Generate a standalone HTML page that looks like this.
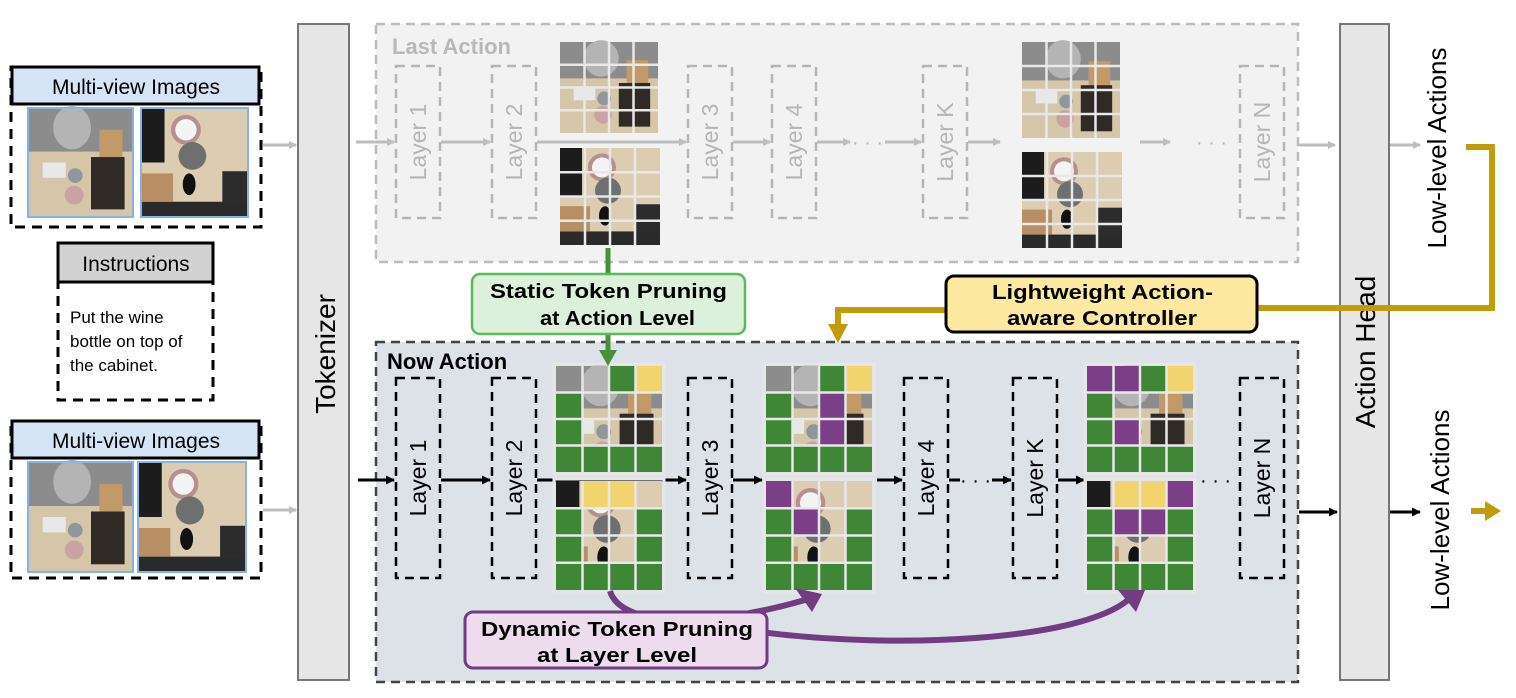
<!DOCTYPE html>
<html><head><meta charset="utf-8">
<style>
html,body{margin:0;padding:0;background:#fff;}
svg{display:block;}
text{font-family:"Liberation Sans",Arial,sans-serif;}
.nar{font-family:"Liberation Sans Narrow","Liberation Sans",Arial,sans-serif;font-weight:bold;}
</style></head>
<body>
<svg id="s" width="1516" height="698" viewBox="0 0 1516 698" xmlns="http://www.w3.org/2000/svg">
<defs>
<marker id="ag" markerWidth="8" markerHeight="8" refX="7" refY="4" orient="auto" markerUnits="userSpaceOnUse"><path d="M0,0 L8,4 L0,8z" fill="#bdbdbd"/></marker>
<marker id="ab" markerWidth="9" markerHeight="9" refX="8" refY="4.5" orient="auto" markerUnits="userSpaceOnUse"><path d="M0,0 L9,4.5 L0,9z" fill="#000"/></marker>
</defs>

<rect x="11" y="67" width="250" height="160" fill="none" stroke="#000" stroke-width="3" stroke-dasharray="10,7"/>
<rect x="12" y="67" width="247" height="37" fill="#d6e5f6" stroke="#000" stroke-width="3"/>
<text x="136" y="94" font-size="21" text-anchor="middle">Multi-view Images</text>

<rect x="58" y="243" width="155" height="157" fill="none" stroke="#000" stroke-width="3" stroke-dasharray="10,7"/>
<rect x="58" y="243" width="155" height="39" fill="#d2d2d2" stroke="#000" stroke-width="3"/>
<text x="136" y="271" font-size="21" text-anchor="middle">Instructions</text>
<text x="70" y="323" font-size="17">Put the wine</text>
<text x="70" y="347" font-size="17">bottle on top of</text>
<text x="70" y="371" font-size="17">the cabinet.</text>

<rect x="11" y="421" width="250" height="157" fill="none" stroke="#000" stroke-width="3" stroke-dasharray="10,7"/>
<rect x="12" y="421" width="247" height="37" fill="#d6e5f6" stroke="#000" stroke-width="3"/>
<text x="136" y="448" font-size="21" text-anchor="middle">Multi-view Images</text>

<line x1="263" y1="145" x2="296" y2="145" stroke="#bdbdbd" stroke-width="3" marker-end="url(#ag)"/>
<line x1="263" y1="510" x2="296" y2="510" stroke="#bdbdbd" stroke-width="3" marker-end="url(#ag)"/>

<rect x="298" y="24" width="51" height="656" fill="#e6e6e6" stroke="#777" stroke-width="2"/>
<text transform="translate(335,354) rotate(-90)" font-size="28" text-anchor="middle">Tokenizer</text>

<rect x="376" y="24" width="922" height="238" fill="#f2f2f2" stroke="#bcbcbc" stroke-width="2.5" stroke-dasharray="9,6"/>
<text x="392" y="54" font-size="22" font-weight="bold" fill="#b8b8b8">Last Action</text>
<g id="lastLayers"></g>

<rect x="376" y="342" width="922" height="340" fill="#dde1e8" stroke="#444" stroke-width="2.5" stroke-dasharray="9,6"/>
<text x="387" y="369" font-size="22" font-weight="bold">Now Action</text>
<g id="nowLayers"></g>

<g id="imgs"></g>

<rect x="1340" y="24" width="49" height="656" fill="#e6e6e6" stroke="#777" stroke-width="2"/>
<text transform="translate(1375,352) rotate(-90)" font-size="28" text-anchor="middle">Action Head</text>

<line x1="1299" y1="145" x2="1335" y2="145" stroke="#bdbdbd" stroke-width="3" marker-end="url(#ag)"/>
<line x1="1390" y1="145" x2="1420" y2="145" stroke="#bdbdbd" stroke-width="3" marker-end="url(#ag)"/>
<line x1="1299" y1="512" x2="1337" y2="512" stroke="#000" stroke-width="3" marker-end="url(#ab)"/>
<line x1="1390" y1="512" x2="1420" y2="512" stroke="#000" stroke-width="3" marker-end="url(#ab)"/>
<text transform="translate(1446,148) rotate(-90)" font-size="26" text-anchor="middle">Low-level Actions</text>
<text transform="translate(1449,510) rotate(-90)" font-size="26" text-anchor="middle">Low-level Actions</text>
<path d="M1471,508 L1485,508 L1485,501 L1501,511 L1485,521 L1485,514 L1471,514z" fill="#c19b0a"/>

<path d="M1466,147 L1492,147 L1492,308 L1258,308" fill="none" stroke="#c19b0a" stroke-width="6"/>
<path d="M946,310 L838,310 L838,326" fill="none" stroke="#c19b0a" stroke-width="6"/>
<path d="M828,324 L848,324 L838,343z" fill="#c19b0a"/>
<rect x="946" y="276" width="311" height="56" rx="8" fill="#fde9a0" stroke="#000" stroke-width="3"/>
<text class="nar" x="992" y="299" font-size="20" textLength="221" lengthAdjust="spacingAndGlyphs">Lightweight Action-</text>
<text class="nar" x="1007" y="325" font-size="20" textLength="190" lengthAdjust="spacingAndGlyphs">aware Controller</text>

<line x1="608" y1="248" x2="608" y2="274" stroke="#4a8f3a" stroke-width="5"/>
<line x1="608" y1="334" x2="608" y2="352" stroke="#4a8f3a" stroke-width="5"/>
<path d="M599,350 L617,350 L608,366z" fill="#4a8f3a"/>
<rect x="472" y="274" width="273" height="60" rx="8" fill="#ddf0dc" stroke="#5cb85c" stroke-width="2.5"/>
<text class="nar" x="490" y="298" font-size="20" textLength="237" lengthAdjust="spacingAndGlyphs">Static Token Pruning</text>
<text class="nar" x="540" y="325" font-size="20" textLength="155" lengthAdjust="spacingAndGlyphs">at Action Level</text>

<path d="M610,591 C620,625 700,630 805,600" fill="none" stroke="#713c80" stroke-width="6"/>
<path d="M795,588 L822,594 L812,612z" fill="#713c80"/>
<path d="M760,632 C900,650 1080,640 1128,600" fill="none" stroke="#713c80" stroke-width="6"/>
<path d="M1118,590 L1145,590 L1136,612z" fill="#713c80"/>
<rect x="465" y="612" width="302" height="56" rx="8" fill="#ecdcee" stroke="#713c80" stroke-width="3"/>
<text class="nar" x="481" y="636" font-size="20" textLength="272" lengthAdjust="spacingAndGlyphs">Dynamic Token Pruning</text>
<text class="nar" x="537" y="662" font-size="20" textLength="160" lengthAdjust="spacingAndGlyphs">at Layer Level</text>
</svg>

<script>
(function(){
var NS="http://www.w3.org/2000/svg";
function el(p,t,a,txt){var e=document.createElementNS(NS,t);for(var k in a)e.setAttribute(k,a[k]);if(txt!==undefined)e.textContent=txt;p.appendChild(e);return e;}
var imgs=document.getElementById('imgs');

function sidev(p,x,y,w,h){
  el(p,'rect',{x:x,y:y,width:w,height:h,fill:'#d6c6a9'});
  el(p,'rect',{x:x,y:y,width:w,height:h*0.4,fill:'#8c8c8c'});
  el(p,'ellipse',{cx:x+w*0.42,cy:y+h*0.18,rx:w*0.18,ry:h*0.2,fill:'#b4b4b4'});
  el(p,'rect',{x:x+w*0.68,y:y+h*0.2,width:w*0.22,height:h*0.25,fill:'#c29a6a'});
  el(p,'rect',{x:x+w*0.6,y:y+h*0.45,width:w*0.32,height:h*0.48,fill:'#2f2a26'});
  el(p,'rect',{x:x+w*0.14,y:y+h*0.5,width:w*0.22,height:h*0.14,fill:'#e8e8e8'});
  el(p,'circle',{cx:x+w*0.45,cy:y+h*0.62,r:w*0.07,fill:'#8f969c'});
  el(p,'circle',{cx:x+w*0.44,cy:y+h*0.8,r:w*0.09,fill:'#c9a3a3'});
}
function topv(p,x,y,w,h){
  el(p,'rect',{x:x,y:y,width:w,height:h,fill:'#dccdb2'});
  el(p,'rect',{x:x,y:y,width:w*0.22,height:h*0.5,fill:'#1c1c1c'});
  el(p,'rect',{x:x,y:y+h*0.86,width:w,height:h*0.14,fill:'#2a2a2a'});
  el(p,'circle',{cx:x+w*0.42,cy:y+h*0.2,r:w*0.14,fill:'#b88f8f'});
  el(p,'circle',{cx:x+w*0.42,cy:y+h*0.2,r:w*0.1,fill:'#f4f4f4'});
  el(p,'circle',{cx:x+w*0.48,cy:y+h*0.44,r:w*0.13,fill:'#6f6f6f'});
  el(p,'ellipse',{cx:x+w*0.45,cy:y+h*0.7,rx:w*0.06,ry:h*0.1,fill:'#111'});
  el(p,'rect',{x:x+w*0.76,y:y+h*0.58,width:w*0.24,height:h*0.3,fill:'#2c2c2c'});
  el(p,'rect',{x:x,y:y+h*0.6,width:w*0.3,height:h*0.26,fill:'#b88e64'});
}
function grid(p,x,y,w,h,col){
  for(var i=1;i<4;i++){
    el(p,'line',{x1:x+w*i/4,y1:y,x2:x+w*i/4,y2:y+h,stroke:col||'#e8e8e8','stroke-width':2.5});
    el(p,'line',{x1:x,y1:y+h*i/4,x2:x+w,y2:y+h*i/4,stroke:col||'#e8e8e8','stroke-width':2.5});
  }
}
var C={g:'#3f8736',y:'#f1d46e',p:'#7b3f88'};
function cells(p,x,y,w,h,m){
  for(var r=0;r<4;r++)for(var c=0;c<4;c++){var k=m[r][c];if(C[k])el(p,'rect',{x:x+w*c/4,y:y+h*r/4,width:w/4,height:h/4,fill:C[k]});}
  el(p,'rect',{x:x-2,y:y-2,width:w+4,height:h+4,fill:'none',stroke:'#e6e6e6','stroke-width':3});
  grid(p,x,y,w,h);
}
function framed(f,x,y,w,h){f(imgs,x,y,w,h);el(imgs,'rect',{x:x,y:y,width:w,height:h,fill:'none',stroke:'#8ab4e0','stroke-width':2});}
framed(sidev,28,108,105,109);
framed(topv,141,108,107,109);
framed(sidev,28,462,105,110);
framed(topv,138,462,108,110);

var LL=document.getElementById('lastLayers');
[[396,'Layer 1'],[492,'Layer 2'],[688,'Layer 3'],[772,'Layer 4'],[923,'Layer K'],[1240,'Layer N']].forEach(function(a){
  el(LL,'rect',{x:a[0],y:66,width:44,height:152,fill:'none',stroke:'#b5b5b5','stroke-width':2.5,'stroke-dasharray':'9,6'});
  el(LL,'text',{transform:'translate('+(a[0]+30)+',142) rotate(-90)','font-size':23,'text-anchor':'middle',fill:'#b5b5b5'},a[1]);
});
[[356,394],[441,490],[537,686],[733,770],[817,850],[885,921],[968,1000],[1140,1170]].forEach(function(s){el(LL,'line',{x1:s[0],y1:142,x2:s[1],y2:142,stroke:'#bdbdbd','stroke-width':3,'marker-end':'url(#ag)'});});
el(LL,'text',{x:852,y:149,'font-size':20,fill:'#b5b5b5'},'· · ·');
el(LL,'text',{x:1196,y:149,'font-size':20,fill:'#b5b5b5'},'· · ·');
sidev(imgs,560,42,98,91); grid(imgs,560,42,98,91);
topv(imgs,560,148,100,97); grid(imgs,560,148,100,97);
sidev(imgs,1022,42,98,96); grid(imgs,1022,42,98,96);
topv(imgs,1022,152,100,96); grid(imgs,1022,152,100,96);

var NL=document.getElementById('nowLayers');
[[396,'Layer 1'],[492,'Layer 2'],[688,'Layer 3'],[904,'Layer 4'],[1013,'Layer K'],[1240,'Layer N']].forEach(function(a){
  el(NL,'rect',{x:a[0],y:378,width:44,height:200,fill:'none',stroke:'#000','stroke-width':2.5,'stroke-dasharray':'9,6'});
  el(NL,'text',{transform:'translate('+(a[0]+30)+',478) rotate(-90)','font-size':23,'text-anchor':'middle'},a[1]);
});
[[358,394],[441,490],[537,686],[733,762],[877,902],[1058,1084]].forEach(function(s){el(NL,'line',{x1:s[0],y1:480,x2:s[1],y2:480,stroke:'#000','stroke-width':3,'marker-end':'url(#ab)'});});
el(NL,'line',{x1:949,y1:480,x2:960,y2:480,stroke:'#000','stroke-width':3});
el(NL,'text',{x:960,y:487,'font-size':20},'· · ·');
el(NL,'line',{x1:992,y1:480,x2:1011,y2:480,stroke:'#000','stroke-width':3,'marker-end':'url(#ab)'});
el(NL,'text',{x:1200,y:487,'font-size':20},'· · ·');

function pair(x,tm,bm){
  sidev(imgs,x,366,106,106); cells(imgs,x,366,106,106,tm);
  topv(imgs,x,481,106,109); cells(imgs,x,481,106,109,bm);
}
pair(556,['..gy','g...','g...','gggg'],['.yy.','g..g','g..g','gggg']);
pair(766,['..gy','g.p.','g.p.','gggg'],['p...','gp.g','g..g','gggg']);
pair(1087,['ppgy','g...','gp..','gggg'],['.yyp','gppg','g..g','gggg']);
})();
</script>
</body></html>
